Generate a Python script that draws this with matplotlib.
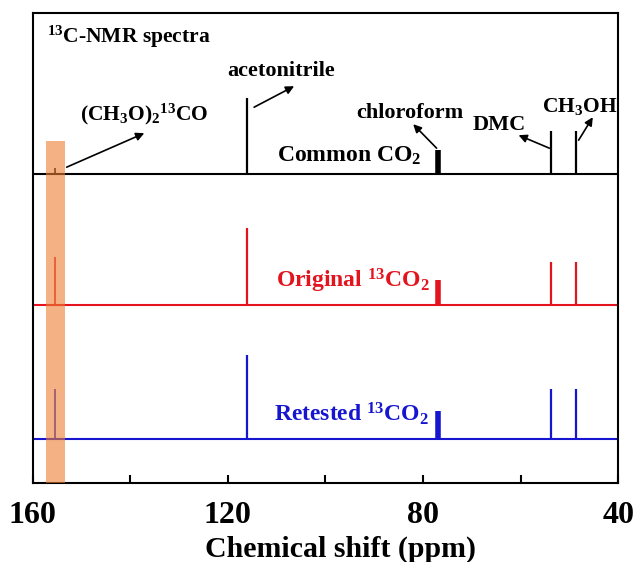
import matplotlib
matplotlib.use("Agg")
import matplotlib.pyplot as plt
import numpy as np

# peak positions (ppm): DMC carbonyl, acetonitrile, chloroform, DMC methyl, methanol
peak_ppm = [155.3, 116.0, 77.0, 53.8, 48.6]
peak_width = [1.2, 1.6, 4.0, 1.6, 1.6]

# baselines (offset) and peak heights, arbitrary intensity
offsets = {"common": 309, "original": 178, "retested": 44}
heights_common = [6, 76, 24, 43, 43]
heights_original = [48, 77, 25, 43, 43]
heights_retested = [50, 84, 28, 50, 50]

band_ppm = [157.3, 153.4]
band_top = 342

plt.rcParams['font.family'] = 'Liberation Serif'
plt.rcParams['font.weight'] = 'bold'
plt.rcParams['mathtext.fontset'] = 'custom'
plt.rcParams['mathtext.rm'] = 'Liberation Serif:bold'
plt.rcParams['mathtext.it'] = 'Liberation Serif:bold'
plt.rcParams['mathtext.bf'] = 'Liberation Serif:bold'

fig = plt.figure(figsize=(6.34, 5.62), dpi=100)
ax = fig.add_axes([0.0513, 0.1406, 0.9237, 0.8358])

series = [
    ("common", heights_common, "black"),
    ("original", heights_original, "#e3141e"),
    ("retested", heights_retested, "#1616d0"),
]
for key, hts, col in series:
    base = offsets[key]
    ax.plot([160, 40], [base, base], color=col, lw=1.5, zorder=2)
    ax.vlines(peak_ppm, base, [base + h for h in hts], colors=col,
              linewidths=peak_width, zorder=2)

ax.fill_betweenx([0, band_top], band_ppm[0], band_ppm[1],
                 color='#ED7D31', alpha=0.6, lw=0, zorder=3)

ax.set_xlim(160, 40)
ax.set_ylim(0, 470)
ax.set_yticks([])
ax.set_xticks([160, 120, 80, 40])
ax.set_xticks([140, 100, 60], minor=True)
ax.tick_params(axis='x', which='both', direction='in', length=6, width=1.5,
               labelsize=23, pad=13)
for s in ax.spines.values():
    s.set_linewidth(1.5)
ax.set_xlabel("Chemical shift (ppm)", fontsize=21.5, fontweight='bold')
ax.xaxis.set_label_coords(0.526, -0.112)

# labels
ax.text(157.0, 440, r"$\mathregular{^{13}}$C-NMR spectra", fontsize=15.5,
        ha='left', va='baseline')
ax.text(109, 407, "acetonitrile", fontsize=16, ha='center', va='baseline')
ax.text(137.0, 363, r"(CH$\mathregular{_3}$O)$\mathregular{_2}$$\mathregular{^{13}}$CO",
        fontsize=15.5, ha='center', va='baseline')
ax.text(82.6, 365, "chloroform", fontsize=16, ha='center', va='baseline')
ax.text(64.4, 353, "DMC", fontsize=16, ha='center', va='baseline')
ax.text(47.9, 371, r"CH$\mathregular{_3}$OH", fontsize=15.5, ha='center', va='baseline')
ax.text(95.1, 321, r"Common CO$\mathregular{_2}$", fontsize=17, ha='center', va='baseline')
ax.text(94.4, 196, r"Original $\mathregular{^{13}}$CO$\mathregular{_2}$", fontsize=17,
        ha='center', va='baseline', color='#e3141e')
ax.text(94.7, 62, r"Retested $\mathregular{^{13}}$CO$\mathregular{_2}$", fontsize=17,
        ha='center', va='baseline', color='#1616d0')

arrows = [
    ((153.0, 316), (137.1, 350)),
    ((114.6, 376), (106.4, 397)),
    ((77.2, 335), (82.0, 359)),
    ((54.1, 335), (60.4, 348)),
    ((48.1, 343), (45.2, 366)),
]
for tail, head in arrows:
    ax.annotate("", xy=head, xytext=tail,
                arrowprops=dict(arrowstyle='-|>', color='black', lw=1.2,
                                mutation_scale=12, shrinkA=0, shrinkB=0),
                zorder=4)

fig.savefig("out.png", dpi=100)
